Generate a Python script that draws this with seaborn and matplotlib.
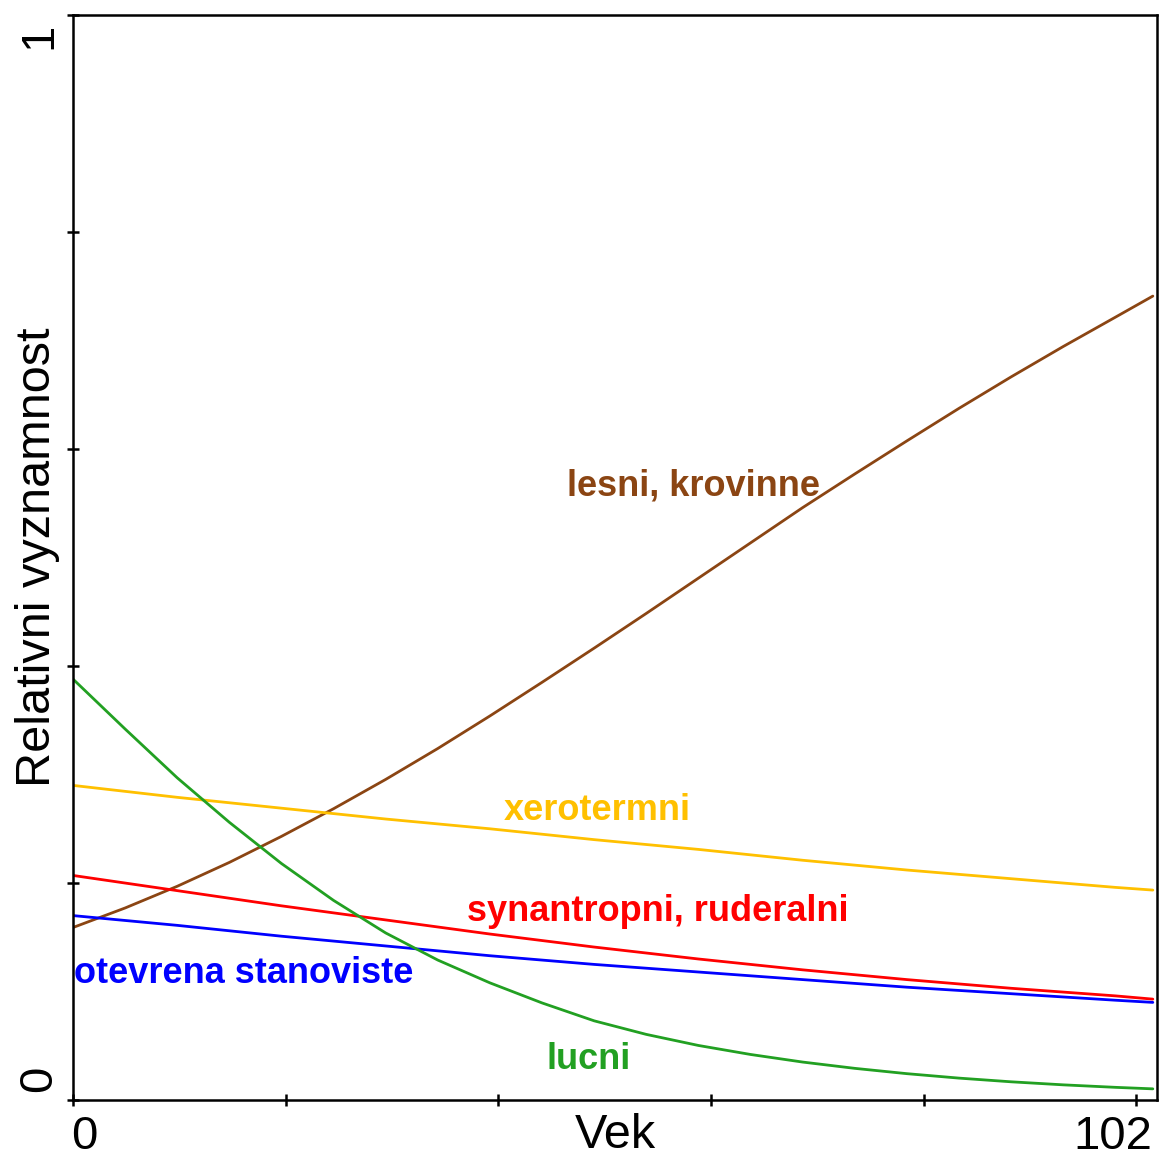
import numpy as np
import pandas as pd
import matplotlib
matplotlib.use("Agg")
import matplotlib.pyplot as plt
import seaborn as sns
from matplotlib.transforms import ScaledTranslation

# values (Vek vs relative importance)
vek_fine = [0, 5, 10, 15, 20, 25, 30, 35, 40, 45, 50, 55, 60, 65, 70, 75, 80, 85, 90, 95, 100, 103.6]
lesni = [0.159, 0.177, 0.197, 0.219, 0.243, 0.2685, 0.2955, 0.324, 0.354, 0.385, 0.4165, 0.4485,
         0.481, 0.5135, 0.546, 0.577, 0.6075, 0.6375, 0.6665, 0.6945, 0.7215, 0.741]
lucni = [0.388, 0.342, 0.297, 0.256, 0.218, 0.184, 0.154, 0.129, 0.108, 0.0895, 0.073, 0.0605,
         0.0503, 0.042, 0.035, 0.0292, 0.0243, 0.0202, 0.0168, 0.014, 0.0117, 0.0103]

vek = [0, 10, 20, 30, 40, 50, 60, 70, 80, 90, 100, 103.6]
xerotermni = [0.290, 0.279, 0.269, 0.259, 0.250, 0.240, 0.231, 0.221, 0.212, 0.204, 0.196, 0.1935]
synantropni = [0.207, 0.193, 0.179, 0.166, 0.153, 0.141, 0.130, 0.120, 0.111, 0.103, 0.096, 0.093]
otevrena = [0.170, 0.161, 0.151, 0.142, 0.133, 0.125, 0.118, 0.111, 0.104, 0.098, 0.092, 0.090]

groups = ["lesni, krovinne", "xerotermni", "synantropni, ruderalni", "otevrena stanoviste", "lucni"]
colors = ["#8B4513", "#FFC000", "#FF0000", "#0000FF", "#22A022"]

frames = [
    pd.DataFrame({"Vek": vek_fine, "val": lesni, "grp": groups[0]}),
    pd.DataFrame({"Vek": vek, "val": xerotermni, "grp": groups[1]}),
    pd.DataFrame({"Vek": vek, "val": synantropni, "grp": groups[2]}),
    pd.DataFrame({"Vek": vek, "val": otevrena, "grp": groups[3]}),
    pd.DataFrame({"Vek": vek_fine, "val": lucni, "grp": groups[4]}),
]
df = pd.concat(frames, ignore_index=True)

sns.set_style("white")
plt.rcParams["font.family"] = ["Liberation Sans", "DejaVu Sans"]
plt.rcParams["text.color"] = "black"
plt.rcParams["axes.labelcolor"] = "black"

fig = plt.figure(figsize=(11.62, 11.60), dpi=100)
ax = fig.add_axes([0.0628, 0.0517, 0.9329, 0.9353])

sns.lineplot(data=df, x="Vek", y="val", hue="grp", hue_order=groups,
             palette=dict(zip(groups, colors)), linewidth=2.0, legend=False,
             sort=True, estimator=None, ax=ax)

ax.set_xlim(0, 104.0)
ax.set_ylim(0, 1)

for s in ax.spines.values():
    s.set_color("black")
    s.set_linewidth(1.8)

xt = [0, 20.4, 40.8, 61.2, 81.6, 102]
ax.set_xticks(xt)
ax.set_xticklabels(["0", "", "", "", "", "102"])
ax.set_yticks([0, 0.2, 0.4, 0.6, 0.8, 1])
ax.set_yticklabels(["0", "", "", "", "", "1"], rotation=90)
ax.tick_params(axis="both", direction="inout", length=9, width=1.8, colors="black",
               labelsize=34, bottom=True, left=True)
ax.tick_params(axis="x", pad=6)
ax.tick_params(axis="y", pad=4)

xl = ax.get_xticklabels()
xl[0].set_ha("left")
xl[-1].set_ha("right")
xl[0].set_transform(xl[0].get_transform() + ScaledTranslation(-2 / 100, 0, fig.dpi_scale_trans))
xl[-1].set_transform(xl[-1].get_transform() + ScaledTranslation(16 / 100, 0, fig.dpi_scale_trans))

yl = ax.get_yticklabels()
yl[0].set_va("bottom")
yl[-1].set_va("top")
yl[0].set_transform(yl[0].get_transform() + ScaledTranslation(0, 8 / 100, fig.dpi_scale_trans))
yl[-1].set_transform(yl[-1].get_transform() + ScaledTranslation(0, -8 / 100, fig.dpi_scale_trans))

ax.set_xlabel("Vek", fontsize=35, color="black")
ax.set_ylabel("Relativni vyznamnost", fontsize=35, color="black")
ax.xaxis.set_label_coords(0.5, -0.012)
ax.yaxis.set_label_coords(-0.012, 0.5)

# curve labels
label_pos = [(59.5, 0.5576), (50.3, 0.258), (56.1, 0.1653), (16.4, 0.1078), (49.5, 0.0286)]
for g, c, (x, y) in zip(groups, colors, label_pos):
    ax.text(x, y, g, color=c, fontsize=26, fontweight="bold", ha="center", va="baseline")

fig.savefig("out.png", dpi=100, facecolor="white")
